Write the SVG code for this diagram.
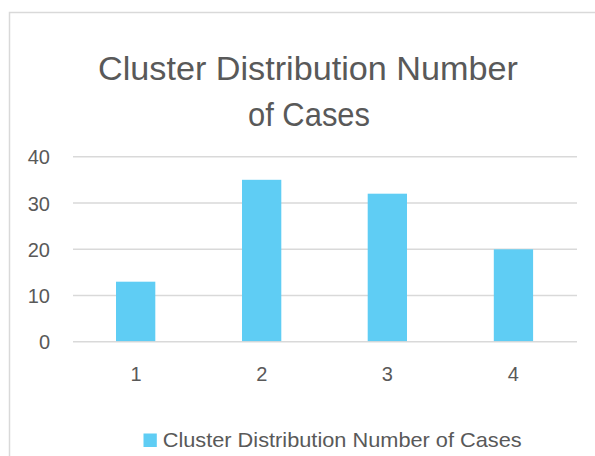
<svg xmlns="http://www.w3.org/2000/svg" width="595" height="456" viewBox="0 0 595 456">
  <style>
    .txt { font-family: "Liberation Sans", Arial, sans-serif; fill: #595959; }
    .title { font-size: 33px; text-anchor: middle; }
    .tick { font-size: 20px; }
    .ylab { text-anchor: end; }
    .xlab { text-anchor: middle; }
    .grid { stroke: #d9d9d9; stroke-width: 1.5; }
    .bar { fill: #5fcdf4; }
    .legend { font-size: 21px; }
  </style>

  <!-- chart area -->
  <rect x="0" y="0" width="595" height="456" fill="#ffffff"/>
  <path d="M9.5,456 V12.5 H595" fill="none" stroke="#d9d9d9" stroke-width="1.5"/>

  <!-- title -->
  <g id="title">
    <text class="txt title" x="308" y="80" textLength="420" lengthAdjust="spacingAndGlyphs">Cluster Distribution Number</text>
    <text class="txt title" x="309" y="126" textLength="122" lengthAdjust="spacingAndGlyphs">of Cases</text>
  </g>

  <!-- value axis: gridlines and labels -->
  <g id="value-axis">
    <line class="grid" x1="73" y1="156.7" x2="577" y2="156.7"/>
    <line class="grid" x1="73" y1="203" x2="577" y2="203"/>
    <line class="grid" x1="73" y1="249.3" x2="577" y2="249.3"/>
    <line class="grid" x1="73" y1="295.6" x2="577" y2="295.6"/>
    <line class="grid" x1="73" y1="341.8" x2="577" y2="341.8"/>
    <text class="txt tick ylab" x="50" y="164.3">40</text>
    <text class="txt tick ylab" x="50" y="210.6">30</text>
    <text class="txt tick ylab" x="50" y="256.9">20</text>
    <text class="txt tick ylab" x="50" y="303.2">10</text>
    <text class="txt tick ylab" x="50" y="349.4">0</text>
  </g>

  <!-- data series -->
  <g id="series">
    <rect id="bar-1" class="bar" x="116" y="281.7" width="39.3" height="59.4"/>
    <rect id="bar-2" class="bar" x="242" y="179.8" width="39.3" height="161.3"/>
    <rect id="bar-3" class="bar" x="367.7" y="193.7" width="39.3" height="147.4"/>
    <rect id="bar-4" class="bar" x="493.8" y="249.3" width="39.3" height="91.8"/>
  </g>

  <!-- category axis labels -->
  <g id="category-axis">
    <text class="txt tick xlab" x="136" y="380.7">1</text>
    <text class="txt tick xlab" x="261.7" y="380.7">2</text>
    <text class="txt tick xlab" x="387.3" y="380.7">3</text>
    <text class="txt tick xlab" x="513.3" y="380.7">4</text>
  </g>

  <!-- legend -->
  <g id="legend">
    <rect class="bar" x="143.5" y="433.5" width="13.3" height="13.5"/>
    <text class="txt legend" x="162.7" y="447.3" textLength="359" lengthAdjust="spacingAndGlyphs">Cluster Distribution Number of Cases</text>
  </g>
</svg>
